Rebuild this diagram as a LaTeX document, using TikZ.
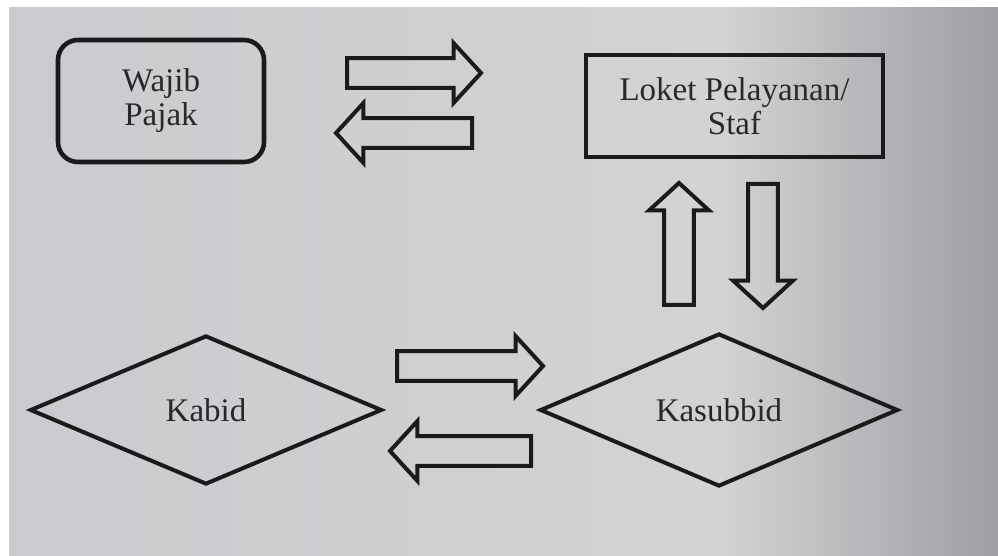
\documentclass[tikz,border=0pt]{standalone}
\usepackage{fontspec}
\setmainfont{Liberation Serif}
\usepackage{tikz}
\usetikzlibrary{shapes,positioning}
\usepackage{xcolor}
\definecolor{pjink}{RGB}{26,26,28}
\definecolor{pjtext}{RGB}{40,40,42}
\definecolor{pjpaperL}{RGB}{203,203,207}
\definecolor{pjpaperM}{RGB}{211,211,213}
\definecolor{pjpaperR}{RGB}{158,158,163}
\tikzstyle{taxpayer} = [rectangle, rounded corners=10pt, minimum width=103pt, minimum height=61pt, align=center, draw=pjink, line width=2.3pt, text=pjtext, font=\fontsize{16.5}{17}\selectfont]
\tikzstyle{counter} = [rectangle, minimum width=148.5pt, minimum height=51pt, align=center, draw=pjink, line width=2.3pt, text=pjtext, font=\fontsize{16.5}{17}\selectfont]
\tikzstyle{official} = [diamond, inner sep=0pt, align=center, draw=pjink, line width=2pt, text=pjtext, font=\fontsize{16.5}{17}\selectfont]
\tikzstyle{blockarrow} = [single arrow, anchor=tail, draw=pjink, line width=2pt, inner xsep=0pt, inner ysep=6.4pt, single arrow head extend=7.5pt, single arrow tip angle=95]

\begin{document}
\begin{tikzpicture}[x=0.5pt, y=-0.5pt]
% paper
\useasboundingbox (0,0) rectangle (998,556);
\fill[white] (0,0) rectangle (998,556);
\shade[left color=pjpaperL, right color=pjpaperM] (9,8) rectangle (720,556);
\shade[left color=pjpaperM, right color=pjpaperR] (720,8) rectangle (998,556);

% Boxes
\node (wajib) [taxpayer] at (161,101) {Wajib\\Pajak};
\node (loket) [counter] at (734.5,106) {Loket Pelayanan/\\Staf};
\node (kabid) [official, minimum width=176pt, minimum height=74.5pt] at (206,410) {Kabid};
\node (kasubbid) [official, minimum width=179pt, minimum height=76.5pt] at (719,410) {Kasubbid};

% Block arrows - top row
\node (wajib2loket) [blockarrow, minimum height=67pt] at (345,73) {};
\node (loket2wajib) [blockarrow, minimum height=68pt, rotate=180] at (474,133) {};

% Block arrows - between Loket and Kasubbid
\node (kasubbid2loket) [blockarrow, minimum height=61pt, rotate=90] at (679,307) {};
\node (loket2kasubbid) [blockarrow, minimum height=62pt, rotate=-90] at (763,182) {};

% Block arrows - bottom row
\node (kabid2kasubbid) [blockarrow, minimum height=73pt] at (395,366) {};
\node (kasubbid2kabid) [blockarrow, minimum height=70.5pt, rotate=180] at (533,451) {};
\end{tikzpicture}
\end{document}
